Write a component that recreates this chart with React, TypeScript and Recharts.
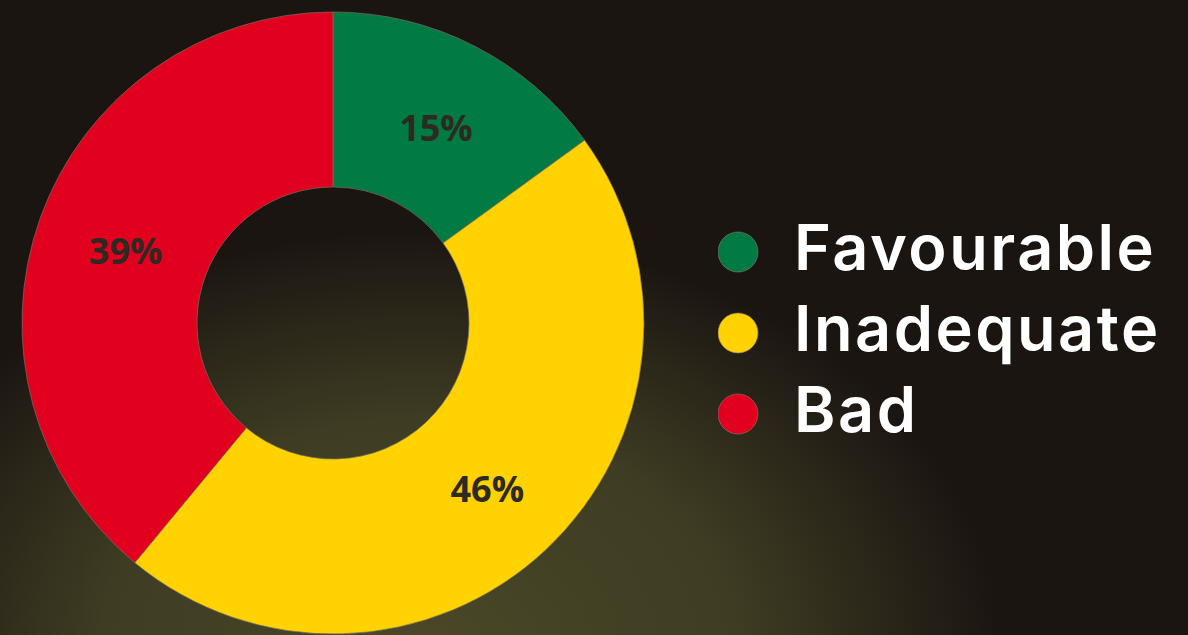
import React from "react";
import { PieChart, Pie, Cell, Legend } from "recharts";

const categories = ["Favourable", "Inadequate", "Bad"];
const values = [15, 46, 39];
const colors = ["#017a43", "#ffd200", "#e2001f"];

const data = categories.map((name, i) => ({ name, value: values[i] }));

const RAD = Math.PI / 180;

const renderLabel = (props: any) => {
  const { cx, cy, midAngle, innerRadius, outerRadius, value } = props;
  const r = (innerRadius + outerRadius) / 2 - 1;
  const x = cx + r * Math.cos(-midAngle * RAD);
  const y = cy + r * Math.sin(-midAngle * RAD);
  return (
    <text
      x={x + 2}
      y={y + 3}
      fill="#2d2a24"
      textAnchor="middle"
      dominantBaseline="central"
      fontFamily="'Open Sans', sans-serif"
      fontWeight={700}
      fontSize={36}
    >
      {`${value}%`}
    </text>
  );
};

const LegendContent = (props: any) => {
  const payload = [...(props.payload || [])].sort(
    (a: any, b: any) => categories.indexOf(a.value) - categories.indexOf(b.value)
  );
  return (
    <svg width={466} height={300} style={{ display: "block" }}>
      {payload.map((entry: any, i: number) => (
        <g key={entry.value}>
          <circle cx={20} cy={57 + i * 81} r={20} fill={entry.color} stroke="rgba(140,120,110,0.6)" strokeWidth={1} />
          <text
            x={76}
            y={75 + i * 81}
            fill="#ffffff"
            fontFamily="Inter, sans-serif"
            fontWeight={600}
            fontSize={63}
            letterSpacing={2.5}
          >
            {entry.value}
          </text>
        </g>
      ))}
    </svg>
  );
};

export default function App() {
  return (
    <div
      style={{
        position: "absolute",
        left: 0,
        top: 0,
        width: 1188,
        height: 635,
        overflow: "hidden",
        background:
          "radial-gradient(ellipse 580px 420px at 420px 650px, #4a4828 0%, #3e3c22 55%, rgba(27,21,18,0) 100%), #1b1512",
      }}
    >
      <PieChart width={1188} height={635} margin={{ top: 0, right: 0, bottom: 0, left: 0 }}>
        <Pie
          data={data}
          dataKey="value"
          nameKey="name"
          cx={333}
          cy={323}
          innerRadius={136}
          outerRadius={311}
          startAngle={90}
          endAngle={-270}
          stroke="rgba(120,110,95,0.7)"
          strokeWidth={1}
          label={renderLabel}
          labelLine={false}
          isAnimationActive={false}
        >
          {data.map((d, i) => (
            <Cell key={d.name} fill={colors[i]} />
          ))}
        </Pie>
        <Legend
          content={<LegendContent />}
          wrapperStyle={{ position: "absolute", left: 718, top: 195, width: 466, height: 300 }}
        />
      </PieChart>
    </div>
  );
}
